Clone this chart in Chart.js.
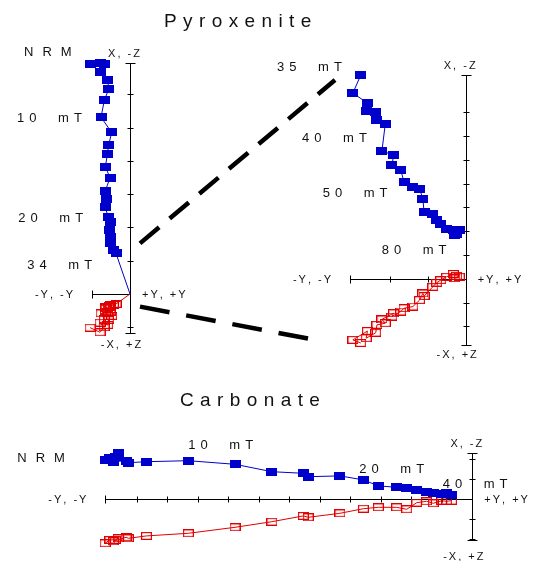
<!DOCTYPE html>
<html>
<head>
<meta charset="utf-8">
<script src="https://cdn.jsdelivr.net/npm/chart.js@4.4.1/dist/chart.umd.min.js"></script>
<style>
  html, body { margin: 0; padding: 0; background: #fff; }
  #wrap { position: relative; width: 534px; height: 561px; overflow: hidden; }
  #wrap canvas { position: absolute; left: 0; top: 0; }
</style>
</head>
<body>
<div id="wrap">
  <canvas id="pyrLeft" width="534" height="561"></canvas>
  <canvas id="pyrRight" width="534" height="561"></canvas>
  <canvas id="carb" width="534" height="561"></canvas>
</div>
<script>
// Zijderveld diagrams. Y is the horizontal axis, X (filled) and Z (open, plotted as -Z) share the vertical one.

// Pyroxenite, NRM to 34 mT (left diagram, ends at the origin)
var pyrLowY = [-1.20, -0.90, -0.78, -0.90, -0.67, -0.64, -0.77, -0.87, -0.55, -0.64, -0.68, -0.74,
               -0.60, -0.74, -0.72, -0.75, -0.65, -0.60, -0.62, -0.60, -0.58, -0.50, -0.42, 0];
var pyrLowX = [6.90, 6.94, 6.92, 6.67, 6.44, 6.15, 5.82, 5.31, 4.85, 4.48, 4.19, 3.82,
               3.49, 3.10, 2.85, 2.60, 2.32, 2.17, 1.92, 1.72, 1.52, 1.32, 1.22, 0];
var pyrLowZ = [1.01, 1.15, 1.00, 0.86, 0.93, 0.78, 0.76, 0.58, 0.66, 0.66, 0.53, 0.53,
               0.53, 0.43, 0.43, 0.40, 0.40, 0.38, 0.35, 0.35, 0.34, 0.33, 0.30, 0];

// Pyroxenite, 35 to 80 mT (right diagram, enlarged)
var pyrHighY = [-4.41, -4.74, -4.13, -4.18, -3.78, -3.73, -3.38, -3.52, -3.03, -3.10, -2.73, -2.59,
                -2.22, -1.94, -1.80, -1.75, -1.38, -1.22, -1.05, -0.80, -0.52, -0.38, -0.27, -0.45];
var pyrHighX = [8.55, 7.80, 7.38, 7.03, 7.00, 6.66, 6.49, 5.37, 5.19, 4.76, 4.57, 4.06,
                3.87, 3.78, 3.36, 2.80, 2.73, 2.48, 2.28, 2.10, 2.03, 1.89, 2.03, 1.82];
var pyrHighZ = [2.70, 2.57, 2.20, 2.50, 2.27, 1.94, 1.87, 1.71, 1.45, 1.59, 1.38, 1.24,
                1.17, 0.90, 0.62, 0.73, 0.34, 0.17, 0.06, -0.08, -0.20, -0.12, -0.08, -0.02];

// Carbonate
var carbY = [-12.04, -11.88, -11.71, -11.61, -11.77, -11.35, -11.28, -10.68, -9.31, -7.78, -6.57, -5.54,
             -5.38, -4.34, -3.57, -3.08, -2.48, -2.15, -1.82, -1.50, -1.28, -1.00, -0.84, -0.68];
var carbX = [1.97, 2.05, 2.13, 2.30, 1.88, 1.93, 1.83, 1.88, 1.93, 1.75, 1.38, 1.30,
             1.13, 1.17, 0.97, 0.67, 0.60, 0.55, 0.47, 0.38, 0.33, 0.25, 0.30, 0.22];
var carbZ = [2.20, 2.03, 2.03, 1.95, 2.10, 1.90, 1.95, 1.83, 1.70, 1.40, 1.12, 0.83,
             0.90, 0.70, 0.47, 0.40, 0.40, 0.50, 0.17, 0.10, 0.20, 0.07, 0.10, 0.07];

var pyrLowSteps = ['NRM', '10 mT', '20 mT', '34 mT'];
var pyrHighSteps = ['35 mT', '40 mT', '50 mT', '80 mT'];
var carbSteps = ['NRM', '10 mT', '20 mT', '40 mT'];
var axisNames = ['X, -Z', '-X, +Z', '-Y, -Y', '+Y, +Y'];

var BLUE = '#0000cc';
var RED = '#e00000';
var FONT = '"Liberation Sans", Arial, sans-serif';
var W = 534, H = 561;

function markImage(filled, color, w, h) {
  var c = document.createElement('canvas');
  c.width = w; c.height = h;
  var g = c.getContext('2d');
  if (filled) {
    g.fillStyle = color;
    g.fillRect(0, 0, w, h);
  } else {
    g.strokeStyle = color;
    g.lineWidth = 1.2;
    g.strokeRect(0.6, 0.6, w - 1.2, h - 1.2);
  }
  return c;
}
var blueMark = markImage(true, BLUE, 11, 8);
var redMark = markImage(false, RED, 11, 8);

// letter spaced text, drawn char by char
function textWidth(ctx, text, spacing, wordGap) {
  var w = 0;
  for (var i = 0; i < text.length; i++) {
    w += ctx.measureText(text[i]).width;
    if (i < text.length - 1) w += spacing + (text[i] === ' ' ? (wordGap || 0) : 0);
  }
  return w;
}
function spacedText(ctx, text, x, y, spacing, wordGap) {
  for (var i = 0; i < text.length; i++) {
    ctx.fillText(text[i], x, y);
    x += ctx.measureText(text[i]).width + spacing + (text[i] === ' ' ? (wordGap || 0) : 0);
  }
}

var zijPlugin = {
  id: 'zij',
  beforeDatasetsDraw: function(chart) {
    var c = chart.options.plugins.zij;
    var ctx = chart.ctx, xs = chart.scales.x, ys = chart.scales.y;
    var ox = Math.round(xs.getPixelForValue(0)) + 0.5;
    var oy = Math.round(ys.getPixelForValue(0)) + 0.5;
    var left = Math.round(xs.getPixelForValue(c.xEnd)) + 0.5;
    var top = Math.round(ys.getPixelForValue(c.yTop)) + 0.5;
    var bottom = Math.round(ys.getPixelForValue(c.yBottom)) + 0.5;
    ctx.save();
    ctx.strokeStyle = '#000';
    ctx.lineWidth = 1;
    ctx.beginPath();
    ctx.moveTo(left, oy); ctx.lineTo(ox, oy);
    ctx.moveTo(ox, top); ctx.lineTo(ox, bottom);
    ctx.moveTo(left, oy - 4); ctx.lineTo(left, oy + 4);
    ctx.moveTo(ox - 5, top); ctx.lineTo(ox + 5, top);
    ctx.moveTo(ox - 5, bottom); ctx.lineTo(ox + 5, bottom);
    for (var v = -c.xStep; v > c.xEnd + c.xStep * 0.3; v -= c.xStep) {
      var px = Math.round(xs.getPixelForValue(v)) + 0.5;
      ctx.moveTo(px, oy - 3); ctx.lineTo(px, oy + 3);
    }
    for (var t = c.yTicks[0]; t <= c.yTicks[1]; t++) {
      if (t === 0) continue;
      var py = Math.round(ys.getPixelForValue(t)) + 0.5;
      ctx.moveTo(ox - 3, py); ctx.lineTo(ox + 3, py);
    }
    ctx.stroke();
    ctx.restore();
  },
  afterDraw: function(chart) {
    var c = chart.options.plugins.zij;
    var ctx = chart.ctx, xs = chart.scales.x, ys = chart.scales.y;
    var ox = xs.getPixelForValue(0), oy = ys.getPixelForValue(0);
    var left = xs.getPixelForValue(c.xEnd);
    var top = ys.getPixelForValue(c.yTop), bottom = ys.getPixelForValue(c.yBottom);
    ctx.save();
    ctx.fillStyle = '#111';
    ctx.textBaseline = 'alphabetic';
    ctx.textAlign = 'left';

    // axis names
    ctx.font = '11px ' + FONT;
    var w = textWidth(ctx, axisNames[0], 2);
    spacedText(ctx, axisNames[0], ox - 6 - w / 2, top - 6, 2);
    w = textWidth(ctx, axisNames[1], 2);
    spacedText(ctx, axisNames[1], ox - 9 - w / 2, bottom + c.bottomGap, 2);
    w = textWidth(ctx, axisNames[2], 2);
    spacedText(ctx, axisNames[2], left - 19 - w, oy + 4, 2);
    spacedText(ctx, axisNames[3], ox + 12, oy + 4, 2);

    // demagnetisation steps
    ctx.font = '13px ' + FONT;
    c.steps.forEach(function(s, i) {
      var pos = c.stepPos[i];
      if (s === 'NRM') spacedText(ctx, s, pos[0], pos[1], 9);
      else spacedText(ctx, s, pos[0], pos[1], 5, 8);
    });

    if (c.title) {
      ctx.font = '19px ' + FONT;
      spacedText(ctx, c.title.text, c.title.x, c.title.y, 6.4);
    }

    // dashed lines to the enlarged diagram
    if (c.connectors) {
      var from = c.connectors.chart;
      ctx.strokeStyle = '#000';
      ctx.lineWidth = 4.5;
      ctx.lineCap = 'butt';
      c.connectors.lines.forEach(function(l) {
        ctx.setLineDash(l.dash);
        ctx.beginPath();
        ctx.moveTo(from.scales.x.getPixelForValue(l.from[0]), from.scales.y.getPixelForValue(l.from[1]));
        ctx.lineTo(xs.getPixelForValue(l.to[0]), ys.getPixelForValue(l.to[1]));
        ctx.stroke();
      });
    }
    ctx.restore();
  }
};

function zijChart(id, yv, xv, zv, p) {
  var m = 14;
  var xMin = p.xEnd - m / p.ux, xMax = m / p.ux;
  var yMin = p.yBottom - m / p.uy, yMax = p.yTop + m / p.uy;
  var radius = function(ctx) {
    var r = ctx.raw;
    return (r && r.x === 0 && r.y === 0) ? 0 : 4;
  };
  return new Chart(document.getElementById(id), {
    type: 'scatter',
    data: {
      datasets: [{
        data: yv.map(function(v, i) { return { x: v, y: xv[i] }; }),
        showLine: true,
        borderColor: BLUE,
        borderWidth: 1,
        pointStyle: blueMark,
        pointRadius: radius,
        clip: false
      }, {
        data: yv.map(function(v, i) { return { x: v, y: -zv[i] }; }),
        showLine: true,
        borderColor: RED,
        borderWidth: 1,
        pointStyle: redMark,
        pointRadius: radius,
        clip: false
      }]
    },
    options: {
      responsive: false,
      animation: false,
      events: [],
      layout: {
        padding: {
          left: p.ox + xMin * p.ux,
          right: W - (p.ox + xMax * p.ux),
          top: p.oy - yMax * p.uy,
          bottom: H - (p.oy - yMin * p.uy)
        }
      },
      scales: {
        x: { type: 'linear', display: false, min: xMin, max: xMax },
        y: { type: 'linear', display: false, min: yMin, max: yMax }
      },
      plugins: {
        legend: { display: false },
        tooltip: { enabled: false },
        zij: p
      }
    },
    plugins: [zijPlugin]
  });
}

var pyrLeftChart = zijChart('pyrLeft', pyrLowY, pyrLowX, pyrLowZ, {
  ox: 130, oy: 294, ux: 33.3, uy: 33.3,
  xEnd: -1.14, yTop: 6.95, yBottom: -1.17, xStep: 1.6, yTicks: [-1, 6],
  bottomGap: 15,
  steps: pyrLowSteps,
  stepPos: [[24, 56], [17, 121.7], [18.3, 221.7], [27.3, 269.3]],
  title: { text: 'Pyroxenite', x: 164, y: 26.5 }
});

var pyrRightChart = zijChart('pyrRight', pyrHighY, pyrHighX, pyrHighZ, {
  ox: 465.7, oy: 278.7, ux: 23.8, uy: 23.8,
  xEnd: -4.86, yTop: 8.55, yBottom: -2.78, xStep: 1.6, yTicks: [-2, 7],
  bottomGap: 13,
  steps: pyrHighSteps,
  stepPos: [[277, 71], [302, 142], [322.7, 196.7], [381.7, 254]],
  connectors: {
    chart: pyrLeftChart,
    lines: [
      { from: [0.30, 1.52], to: [-5.49, 8.35], dash: [25, 13.7] },
      { from: [0.30, -0.38], to: [-6.43, -2.55], dash: [30, 17] }
    ]
  }
});

var carbChart = zijChart('carb', carbY, carbX, carbZ, {
  ox: 472.3, oy: 499.3, ux: 30.5, uy: 20,
  xEnd: -12.03, yTop: 2.3, yBottom: -2.03, xStep: 1, yTicks: [-2, 2],
  bottomGap: 20,
  steps: carbSteps,
  stepPos: [[17.3, 462.3], [188.3, 449], [359.3, 473.3], [442.7, 488.3]],
  title: { text: 'Carbonate', x: 180, y: 405.7 }
});
</script>
</body>
</html>
